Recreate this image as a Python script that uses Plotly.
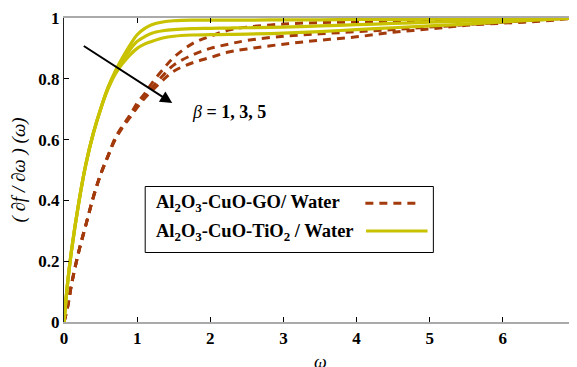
import plotly.graph_objects as go

# ---- data ----
omega = [0, 0.05, 0.1, 0.2, 0.3, 0.4, 0.5, 0.6, 0.7, 0.8, 0.9, 1.0, 1.1, 1.2, 1.35, 1.5,
         1.75, 2.0, 2.25, 2.5, 3.0, 3.5, 4.0, 4.5, 5.0, 5.5, 6.0, 6.5, 7.0]

go_b1 = [0, 0.05, 0.12, 0.23, 0.32, 0.41, 0.485, 0.545, 0.605, 0.645, 0.68, 0.72, 0.75, 0.785,
         0.83, 0.87, 0.915, 0.94, 0.96, 0.97, 0.98, 0.985, 0.987, 0.99, 0.992, 0.995, 0.997, 0.999, 1.0]
go_b3 = [0, 0.05, 0.12, 0.23, 0.32, 0.41, 0.485, 0.545, 0.603, 0.642, 0.675, 0.71, 0.74, 0.77,
         0.81, 0.845, 0.878, 0.90, 0.914, 0.926, 0.94, 0.948, 0.955, 0.962, 0.97, 0.978, 0.986, 0.994, 1.0]
go_b5 = [0, 0.05, 0.12, 0.23, 0.32, 0.41, 0.485, 0.545, 0.60, 0.64, 0.672, 0.705, 0.735, 0.76,
         0.795, 0.825, 0.852, 0.87, 0.888, 0.898, 0.914, 0.927, 0.938, 0.953, 0.964, 0.976, 0.983, 0.989, 1.0]

ti_b1 = [0, 0.13, 0.23, 0.39, 0.52, 0.62, 0.70, 0.77, 0.825, 0.87, 0.91, 0.945, 0.965, 0.978,
         0.987, 0.991, 0.993, 0.993, 0.993, 0.993, 0.994, 0.994, 0.995, 0.995, 0.996, 0.997, 0.998, 0.999, 1.0]
ti_b3 = [0, 0.13, 0.23, 0.39, 0.52, 0.62, 0.70, 0.77, 0.82, 0.86, 0.895, 0.923, 0.938, 0.95,
         0.958, 0.962, 0.965, 0.966, 0.967, 0.968, 0.970, 0.974, 0.978, 0.982, 0.986, 0.99, 0.994, 0.997, 1.0]
ti_b5 = [0, 0.13, 0.23, 0.39, 0.52, 0.62, 0.70, 0.765, 0.815, 0.85, 0.878, 0.90, 0.914, 0.923,
         0.934, 0.94, 0.944, 0.945, 0.946, 0.947, 0.95, 0.955, 0.962, 0.968, 0.974, 0.98, 0.987, 0.994, 1.0]

x_ticks = [0, 1, 2, 3, 4, 5, 6, 7]
y_ticks = [0, 0.2, 0.4, 0.6, 0.8, 1]
y_tick_labels = ["0", "0.2", "0.4", "0.6", "0.8", "1"]

name_go = "Al<sub>2</sub>O<sub>3</sub>-CuO-GO/ Water"
name_ti = "Al<sub>2</sub>O<sub>3</sub>-CuO-TiO<sub>2</sub> / Water"
beta_text = "<i>β</i> <b>= 1, 3, 5</b>"
x_title = "<i>ω</i>"
y_title = "<i>( ∂f / ∂ω ) (ω)</i>"

RED = "#a33a0c"
YEL = "#c8c200"
FONT = "Liberation Serif, Times New Roman, serif"

fig = go.Figure()
for ys in (go_b1, go_b3, go_b5):
    fig.add_trace(go.Scatter(x=omega, y=ys, mode="lines", name=name_go, showlegend=False,
                             line=dict(color=RED, width=3, dash="8px,6px", shape="spline")))
for ys in (ti_b1, ti_b3, ti_b5):
    fig.add_trace(go.Scatter(x=omega, y=ys, mode="lines", name=name_ti, showlegend=False,
                             line=dict(color=YEL, width=3.2, shape="spline")))

# arrow and beta label
fig.add_annotation(x=1.48, y=0.72, ax=0.25, ay=0.911, xref="x", yref="y", axref="x", ayref="y",
                   text="", showarrow=True, arrowhead=2, arrowsize=1.2, arrowwidth=2, arrowcolor="black")
fig.add_annotation(x=1.72, y=0.69, xref="x", yref="y", text=beta_text, showarrow=False,
                   xanchor="left", yanchor="middle", font=dict(family=FONT, size=18, color="black"))

# custom legend box (samples drawn to the right of the text, as in the reference)
fig.add_shape(type="rect", xref="x", yref="y", x0=1.11, x1=5.05, y0=0.2286, y1=0.4457,
              line=dict(color="black", width=1), fillcolor="white", layer="above")
fig.add_annotation(x=1.23, y=0.391, xref="x", yref="y", text="<b>" + name_go + "</b>", showarrow=False,
                   xanchor="left", yanchor="middle", font=dict(family=FONT, size=18.5, color="black"))
fig.add_annotation(x=1.23, y=0.293, xref="x", yref="y", text="<b>" + name_ti + "</b>", showarrow=False,
                   xanchor="left", yanchor="middle", font=dict(family=FONT, size=18.5, color="black"))
fig.add_shape(type="line", xref="x", yref="y", x0=4.12, x1=4.88, y0=0.391, y1=0.391,
              line=dict(color=RED, width=3, dash="8px,6px"), layer="above")
fig.add_shape(type="line", xref="x", yref="y", x0=4.13, x1=4.97, y0=0.299, y1=0.299,
              line=dict(color=YEL, width=3), layer="above")

# x-axis title sits low, partly below the window edge as in the reference
fig.add_annotation(x=0.5, y=-0.133, xref="paper", yref="paper", text=x_title, showarrow=False,
                   xanchor="center", yanchor="middle", font=dict(family=FONT, size=18, color="black"))

# the page body adds an 8px offset; margins compensate so the plot area sits at 64..576 x 18..322
fig.update_layout(
    width=569, height=359,
    margin=dict(l=56, r=1, t=10, b=45, autoexpand=False),
    plot_bgcolor="white", paper_bgcolor="white",
    showlegend=False,
    font=dict(family=FONT, color="black"),
)
fig.update_xaxes(range=[0, 7], tickvals=x_ticks, showgrid=False, zeroline=False, automargin=False,
                 showline=True, linecolor="#aaaaaa", linewidth=1.5, mirror="ticks",
                 ticks="inside", ticklen=5, tickcolor="black", ticklabeloverflow="allow",
                 tickfont=dict(family=FONT, size=17, weight="bold"))
fig.update_yaxes(range=[0, 1], tickvals=y_ticks, ticktext=y_tick_labels, showgrid=False, zeroline=False,
                 automargin=False, showline=True, linecolor="#222222", linewidth=1, mirror=False,
                 ticks="inside", ticklen=5, tickcolor="black", ticklabeloverflow="allow",
                 tickfont=dict(family=FONT, size=17, weight="bold"),
                 title=dict(text=y_title, font=dict(family=FONT, size=19), standoff=10))

fig.write_html("out.html")
